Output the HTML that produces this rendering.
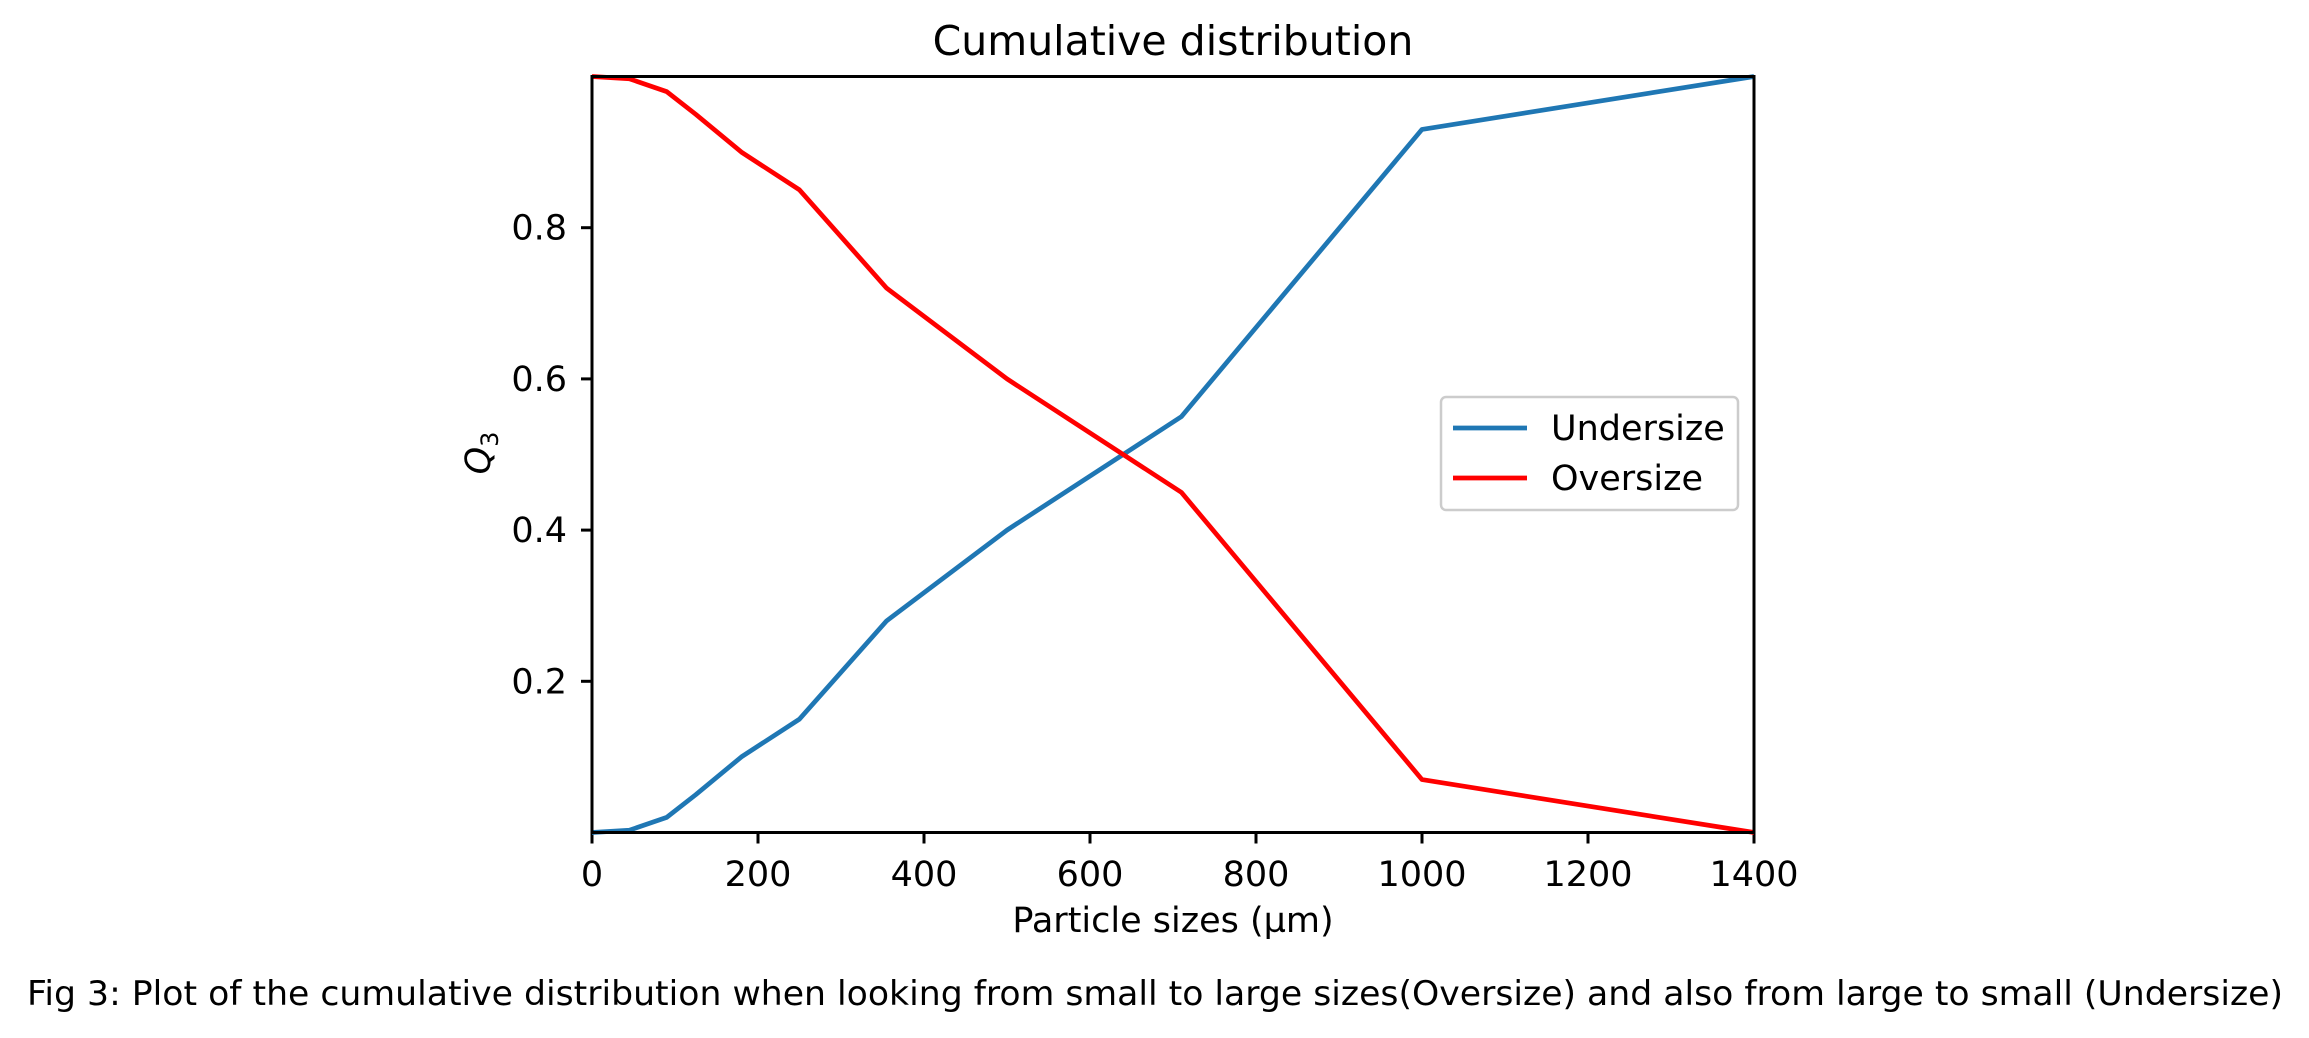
<!DOCTYPE html>
<html><head><meta charset="utf-8"><style>
html,body{margin:0;padding:0;background:#fff;}
svg{display:block;font-family:"DejaVu Sans","Liberation Sans",sans-serif;}
</style></head><body>
<svg id="chart" width="2309" height="1038" viewBox="0 0 2309 1038" xmlns="http://www.w3.org/2000/svg">
<rect width="2309" height="1038" fill="#fff"/>
<text x="1173" y="55" font-size="41" text-anchor="middle">Cumulative distribution</text>
<g id="xticks"></g>
<g id="yticks"></g>
<g id="series"></g>
<rect x="592" y="76.5" width="1162" height="756" fill="none" stroke="#000" stroke-width="3"/>
<text x="1173" y="932" font-size="35" text-anchor="middle">Particle sizes (µm)</text>
<text transform="translate(490,453) rotate(-90)" font-size="35" text-anchor="middle" font-style="italic">Q<tspan font-size="24" dy="8" font-style="normal">3</tspan></text>
<g>
<rect x="1441" y="397" width="297" height="113" rx="5" fill="#fff" stroke="#ccc" stroke-width="2.5"/>
<line x1="1453" y1="428" x2="1527" y2="428" stroke="#1f77b4" stroke-width="4.7"/>
<text x="1551" y="440" font-size="35">Undersize</text>
<line x1="1453" y1="478" x2="1527" y2="478" stroke="#ff0000" stroke-width="4.7"/>
<text x="1551" y="490" font-size="35">Oversize</text>
</g>
<text x="1155" y="1005" font-size="34" text-anchor="middle" textLength="2256" lengthAdjust="spacingAndGlyphs">Fig 3: Plot of the cumulative distribution when looking from small to large sizes(Oversize) and also from large to small (Undersize)</text>
</svg>
<script>
const sizes = [0, 45, 90, 125, 180, 250, 355, 500, 710, 1000, 1400];
const undersize = [0, 0.003, 0.02, 0.05, 0.1, 0.15, 0.28, 0.4, 0.55, 0.93, 1.0];
const oversize = [1.0, 0.997, 0.98, 0.95, 0.9, 0.85, 0.72, 0.6, 0.45, 0.07, 0];
const xTickValues = [0, 200, 400, 600, 800, 1000, 1200, 1400];
const xTickLabels = ["0", "200", "400", "600", "800", "1000", "1200", "1400"];
const yTickValues = [0.2, 0.4, 0.6, 0.8];
const yTickLabels = ["0.2", "0.4", "0.6", "0.8"];

const NS = "http://www.w3.org/2000/svg";
const L = 592, R = 1754, T = 76.5, B = 832.5;
const xScale = v => L + (v - 0) / (1400 - 0) * (R - L);
const yScale = v => B - (v - 0) / (1 - 0) * (B - T);

const xg = document.getElementById('xticks');
xTickValues.forEach((v, i) => {
  const x = xScale(v);
  const ln = document.createElementNS(NS, 'line');
  ln.setAttribute('x1', x); ln.setAttribute('x2', x);
  ln.setAttribute('y1', B); ln.setAttribute('y2', B + 11);
  ln.setAttribute('stroke', '#000'); ln.setAttribute('stroke-width', '3');
  
  
  xg.appendChild(ln);
  const t = document.createElementNS(NS, 'text');
  t.setAttribute('x', x); t.setAttribute('y', 886);
  t.setAttribute('font-size', '35'); t.setAttribute('text-anchor', 'middle');
  t.textContent = xTickLabels[i];
  
  
  xg.appendChild(t);
});

const yg = document.getElementById('yticks');
yTickValues.forEach((v, i) => {
  const y = yScale(v);
  const ln = document.createElementNS(NS, 'line');
  ln.setAttribute('x1', L - 11); ln.setAttribute('x2', L);
  ln.setAttribute('y1', y); ln.setAttribute('y2', y);
  ln.setAttribute('stroke', '#000'); ln.setAttribute('stroke-width', '3');
  
  
  yg.appendChild(ln);
  const t = document.createElementNS(NS, 'text');
  t.setAttribute('x', 567); t.setAttribute('y', y + 12);
  t.setAttribute('font-size', '35'); t.setAttribute('text-anchor', 'end');
  t.textContent = yTickLabels[i];
  
  
  yg.appendChild(t);
});

const sg = document.getElementById('series');
function drawLine(vals, color, name) {
  const p = document.createElementNS(NS, 'polyline');
  p.setAttribute('points', sizes.map((s, i) => xScale(s) + ',' + yScale(vals[i])).join(' '));
  p.setAttribute('fill', 'none'); p.setAttribute('stroke', color);
  p.setAttribute('stroke-width', '4.7'); p.setAttribute('stroke-linejoin', 'round');
  
  
  sg.appendChild(p);
}
drawLine(undersize, '#1f77b4', 'undersize-line');
drawLine(oversize, '#ff0000', 'oversize-line');
</script>
</body></html>
